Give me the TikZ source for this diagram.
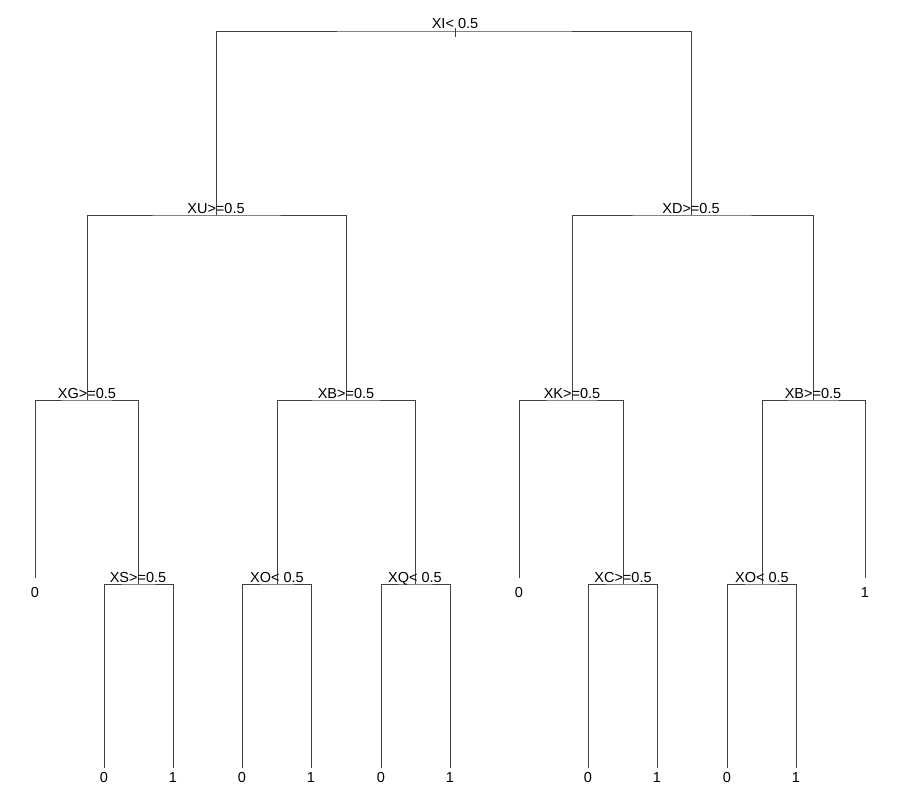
\documentclass[tikz,border=0pt]{standalone}
\usepackage{fontspec}
\setmainfont{Liberation Sans}
\begin{document}
\begin{tikzpicture}[x=1pt, y=-1pt, line width=0.8pt]
\tikzstyle{split} = [inner sep=0pt, anchor=base, font=\fontsize{14.5}{14.5}\selectfont]
\tikzstyle{leaf} = [inner sep=0pt, anchor=north, font=\fontsize{14.5}{14.5}\selectfont]
\tikzstyle{edge} = [draw=black!75]
\useasboundingbox (0,0) rectangle (900,800);
% split points
\coordinate (T-1) at (455,31);
\coordinate (T-2) at (216,215);
\coordinate (T-3) at (691,215);
\coordinate (T-4) at (87,400);
\coordinate (T-5) at (346,400);
\coordinate (T-6) at (572,400);
\coordinate (T-7) at (813,400);
\coordinate (T-9) at (138,584);
\coordinate (T-10) at (277,584);
\coordinate (T-11) at (415,584);
\coordinate (T-13) at (623,584);
\coordinate (T-14) at (762,584);
% leaf ends
\coordinate (T-8) at (35,578);
\coordinate (T-12) at (519,578);
\coordinate (T-15) at (865,578);
\coordinate (T-18) at (104,768);
\coordinate (T-19) at (173,768);
\coordinate (T-20) at (242,768);
\coordinate (T-21) at (311,768);
\coordinate (T-22) at (381,768);
\coordinate (T-23) at (450,768);
\coordinate (T-26) at (588,768);
\coordinate (T-27) at (657,768);
\coordinate (T-28) at (727,768);
\coordinate (T-29) at (796,768);
\coordinate (T-0a) at (455,28);
\coordinate (T-0b) at (455,37);
% branches
\draw[edge] (T-0a) -- (T-0b);
\draw[edge] (T-2) |- (T-1) -| (T-3);
\draw[edge] (T-4) |- (T-2) -| (T-5);
\draw[edge] (T-6) |- (T-3) -| (T-7);
\draw[edge] (T-8) |- (T-4) -| (T-9);
\draw[edge] (T-10) |- (T-5) -| (T-11);
\draw[edge] (T-12) |- (T-6) -| (T-13);
\draw[edge] (T-14) |- (T-7) -| (T-15);
\draw[edge] (T-18) |- (T-9) -| (T-19);
\draw[edge] (T-20) |- (T-10) -| (T-21);
\draw[edge] (T-22) |- (T-11) -| (T-23);
\draw[edge] (T-26) |- (T-13) -| (T-27);
\draw[edge] (T-28) |- (T-14) -| (T-29);
% split labels
\node[split] (S-1) at ([yshift=2pt]T-1) {XI< 0.5};
\node[split] (S-2) at ([yshift=2pt]T-2) {XU>=0.5};
\node[split] (S-3) at ([yshift=2pt]T-3) {XD>=0.5};
\node[split] (S-4) at ([yshift=2pt]T-4) {XG>=0.5};
\node[split] (S-5) at ([yshift=2pt]T-5) {XB>=0.5};
\node[split] (S-6) at ([yshift=2pt]T-6) {XK>=0.5};
\node[split] (S-7) at ([yshift=2pt]T-7) {XB>=0.5};
\node[split] (S-9) at ([yshift=2pt]T-9) {XS>=0.5};
\node[split] (S-10) at ([yshift=2pt]T-10) {XO< 0.5};
\node[split] (S-11) at ([yshift=2pt]T-11) {XQ< 0.5};
\node[split] (S-13) at ([yshift=2pt]T-13) {XC>=0.5};
\node[split] (S-14) at ([yshift=2pt]T-14) {XO< 0.5};
% leaf labels
\node[leaf] (F-8) at ([yshift=-9pt]T-8) {0};
\node[leaf] (F-12) at ([yshift=-9pt]T-12) {0};
\node[leaf] (F-15) at ([yshift=-9pt]T-15) {1};
\node[leaf] (F-18) at ([yshift=-4pt]T-18) {0};
\node[leaf] (F-19) at ([yshift=-4pt]T-19) {1};
\node[leaf] (F-20) at ([yshift=-4pt]T-20) {0};
\node[leaf] (F-21) at ([yshift=-4pt]T-21) {1};
\node[leaf] (F-22) at ([yshift=-4pt]T-22) {0};
\node[leaf] (F-23) at ([yshift=-4pt]T-23) {1};
\node[leaf] (F-26) at ([yshift=-4pt]T-26) {0};
\node[leaf] (F-27) at ([yshift=-4pt]T-27) {1};
\node[leaf] (F-28) at ([yshift=-4pt]T-28) {0};
\node[leaf] (F-29) at ([yshift=-4pt]T-29) {1};
\end{tikzpicture}
\end{document}
